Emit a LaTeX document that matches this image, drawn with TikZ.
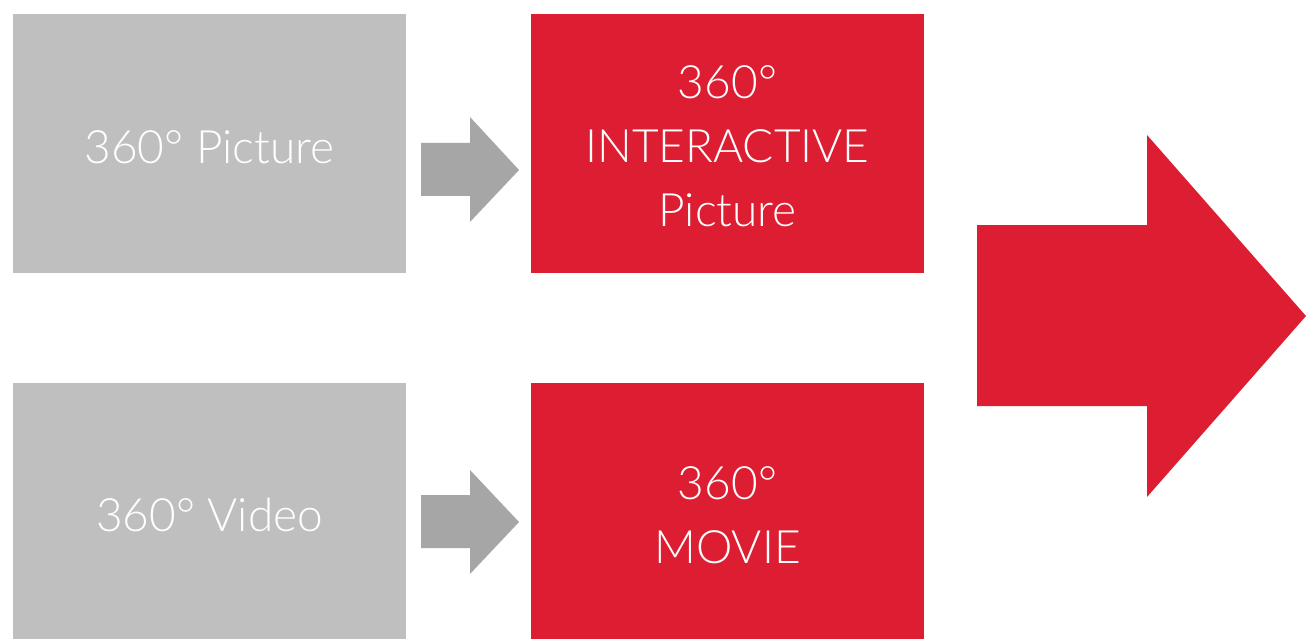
\documentclass[tikz,border=0pt]{standalone}
\usepackage{fontspec}
\setmainfont{Lato}[UprightFont=* Light]
\definecolor{boxgray}{HTML}{BFBFBF}
\definecolor{arrgray}{HTML}{A6A6A6}
\definecolor{boxred}{HTML}{DD1E32}
\begin{document}
\begin{tikzpicture}[x=1pt,y=-1pt,
  box/.style={minimum width=393pt, minimum height=259pt, inner sep=0pt},
  lowbox/.style={box, minimum height=256pt},
  txt/.style={inner sep=0pt, align=center, text=white, font=\fontsize{46}{64}\selectfont}]
\fill[white] (0,0) rectangle (1306,639);
\useasboundingbox (0,0) rectangle (1306,639);
\node[box, fill=boxgray] (pic) at (209.5,143.5) {};
\node[box, fill=boxred] (ipic) at (727.5,143.5) {};
\node[lowbox, fill=boxgray] (vid) at (209.5,511) {};
\node[lowbox, fill=boxred] (movie) at (727.5,511) {};
\node[txt] (pict) at ([yshift=-3.5pt]pic.center) {360° Picture};
\node[txt] (ipict) at ([yshift=-3pt]ipic.center) {360°\\INTERACTIVE\\Picture};
\node[txt] (vidt) at ([yshift=-4pt]vid.center) {360° Video};
\node[txt] (moviet) at ([yshift=-4pt]movie.center) {360°\\MOVIE};
% small arrows
\fill[arrgray] (421,143) -- (470,143) -- (470,117) -- (519,170) -- (470,222) -- (470,196) -- (421,196) -- cycle;
\fill[arrgray] (421,495) -- (470,495) -- (470,470) -- (519,522) -- (470,574) -- (470,548) -- (421,548) -- cycle;
% big arrow
\fill[boxred] (977,225) -- (1147,225) -- (1147,135) -- (1306,316) -- (1147,497) -- (1147,406) -- (977,406) -- cycle;
\end{tikzpicture}
\end{document}
